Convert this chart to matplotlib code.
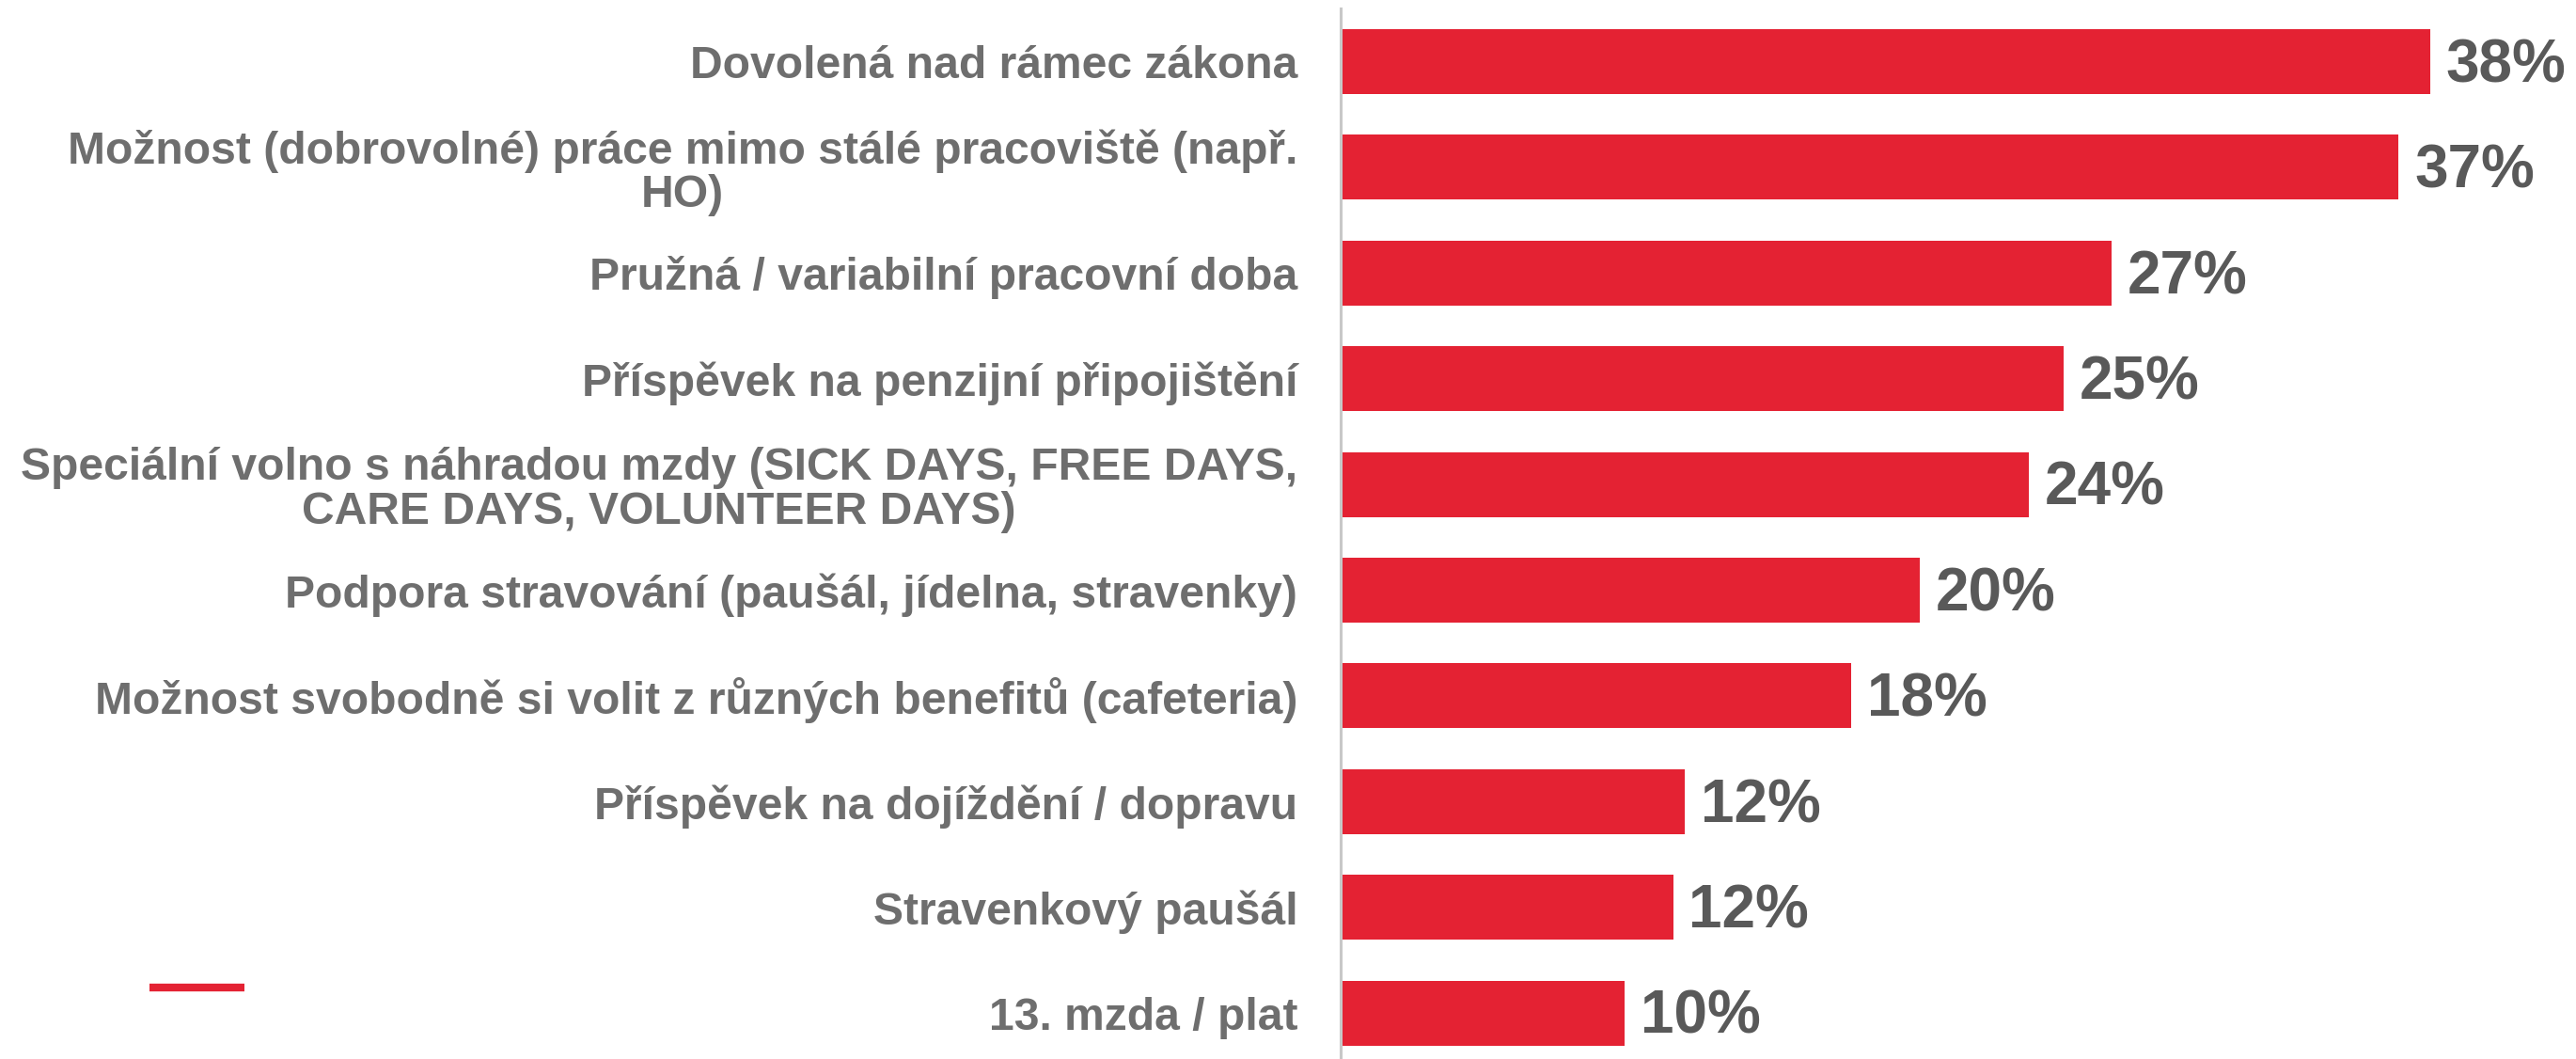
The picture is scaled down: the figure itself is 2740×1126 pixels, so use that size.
import numpy as np
from matplotlib import pyplot as plt
from matplotlib.lines import Line2D

plt.rcParams['font.family'] = ['Liberation Sans', 'DejaVu Sans']

categories = [
    'Dovolená nad rámec zákona',
    'Možnost (dobrovolné) práce mimo stálé pracoviště (např.\nHO)',
    'Pružná / variabilní pracovní doba',
    'Příspěvek na penzijní připojištění',
    'Speciální volno s náhradou mzdy (SICK DAYS, FREE DAYS,\nCARE DAYS, VOLUNTEER DAYS)',
    'Podpora stravování (paušál, jídelna, stravenky)',
    'Možnost svobodně si volit z různých benefitů (cafeteria)',
    'Příspěvek na dojíždění / dopravu',
    'Stravenkový paušál',
    '13. mzda / plat',
]
values = [38.0, 36.9, 26.9, 25.2, 24.0, 20.2, 17.8, 12.0, 11.6, 9.9]
value_labels = ['38%', '37%', '27%', '25%', '24%', '20%', '18%', '12%', '12%', '10%']

W, H = 2740, 1126
fig = plt.figure(figsize=(W / 100, H / 100), dpi=100)

# axes placed in pixel terms: zero line at x=1426, bands 112.4 px tall
x0, x1 = 1426, 2740
top = 9.3
band = 112.4
bottom = top + band * len(values)
ax = fig.add_axes([x0 / W, 1 - bottom / H, (x1 - x0) / W, (bottom - top) / H])

y = np.arange(len(values))
ax.barh(y, values, height=0.615, color='#e42233', edgecolor='none')

ax.set_ylim(len(values) - 0.5, -0.5)
ax.set_xlim(0, (x1 - x0) / 30.5)

ax.set_yticks(y)
ax.set_yticklabels(categories, fontsize=34.6, fontweight='bold', color='#6e6e6e',
                   linespacing=1.05, multialignment='center')
ax.tick_params(axis='y', length=0, pad=33)
ax.set_xticks([])

for s in ['top', 'right', 'bottom']:
    ax.spines[s].set_visible(False)
ax.spines['left'].set_color('#c8c8c8')
ax.spines['left'].set_linewidth(2.2)

for yi, v, lab in zip(y, values, value_labels):
    ax.annotate(lab, (v, yi), xytext=(12, -3.5), textcoords='offset points',
                va='center', ha='left', fontsize=46, fontweight='bold',
                color='#595959', annotation_clip=False)

# small red dash in lower left corner
fig.add_artist(Line2D([159 / W, 260 / W], [1 - 1050 / H, 1 - 1050 / H],
                      color='#e42233', linewidth=6, solid_capstyle='butt'))

fig.savefig('out.png', dpi=100)
